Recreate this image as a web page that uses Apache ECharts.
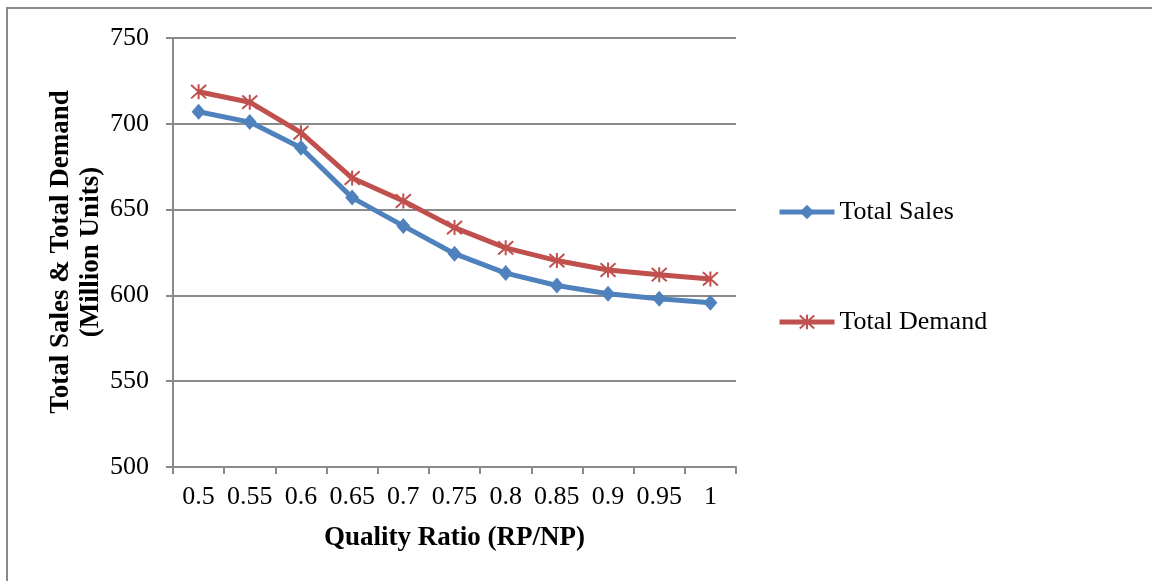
<!DOCTYPE html>
<html>
<head>
<meta charset="utf-8">
<script src="https://cdn.jsdelivr.net/npm/echarts@6/dist/echarts.min.js"></script>
<style>
  html, body { margin: 0; padding: 0; background: #fff; }
  #chart { width: 1152px; height: 581px; }
</style>
</head>
<body>
<div id="chart"></div>
<script>
// Quality ratio categories on the x axis
const qualityRatios = ['0.5', '0.55', '0.6', '0.65', '0.7', '0.75', '0.8', '0.85', '0.9', '0.95', '1'];
// Million units
const totalSales  = [707, 701, 686, 657, 640.5, 624.3, 613, 605.8, 601, 598, 595.7];
const totalDemand = [718.7, 712.6, 694.8, 668.4, 655, 639.5, 627.7, 620.3, 614.8, 612.1, 609.6];

const FONT = '"Liberation Serif", "Times New Roman", serif';
const GRAY = '#8a8a8a';
const BLUE = '#4F81BD';
const RED = '#C0504D';
// asterisk marker: X with a vertical stroke
const ASTERISK = 'path://M0,0L16,16M16,0L0,16M8,-1L8,17';

const chart = echarts.init(document.getElementById('chart'), null, { renderer: 'canvas' });
chart.setOption({
  backgroundColor: '#ffffff',
  animation: false,
  grid: { left: 173, right: 416, top: 38, bottom: 114 },
  xAxis: {
    type: 'category',
    data: qualityRatios,
    boundaryGap: true,
    axisLine: { lineStyle: { color: GRAY, width: 2 } },
    axisTick: { show: true, interval: 0, length: 7, lineStyle: { color: GRAY, width: 2 } },
    axisLabel: { interval: 0, margin: 17, color: '#000', fontFamily: FONT, fontSize: 26 },
    name: 'Quality Ratio (RP/NP)',
    nameLocation: 'middle',
    nameGap: 58,
    nameTextStyle: { color: '#000', fontFamily: FONT, fontSize: 27, fontWeight: 'bold' }
  },
  yAxis: {
    type: 'value',
    min: 500,
    max: 750,
    interval: 50,
    axisLine: { show: true, lineStyle: { color: GRAY, width: 2 } },
    axisTick: { show: true, length: 7, lineStyle: { color: GRAY, width: 2 } },
    axisLabel: { margin: 24, color: '#000', fontFamily: FONT, fontSize: 26 },
    splitLine: { show: true, lineStyle: { color: GRAY, width: 2 } }
  },
  legend: {
    orient: 'vertical',
    left: 777,
    top: 199,
    padding: 0,
    itemWidth: 55,
    itemHeight: 18,
    itemGap: 84,
    data: ['Total Sales', 'Total Demand'],
    lineStyle: { width: 5 },
    textStyle: { color: '#000', fontFamily: FONT, fontSize: 26 }
  },
  graphic: [
    {
      type: 'rect',
      silent: true,
      shape: { x: 7, y: 8, width: 1300, height: 700 },
      style: { fill: 'none', stroke: GRAY, lineWidth: 2 }
    },
    {
      type: 'text',
      silent: true,
      x: 76,
      y: 252,
      rotation: Math.PI / 2,
      style: {
        text: 'Total Sales & Total Demand\n(Million Units)',
        font: 'bold 27px ' + FONT,
        fill: '#000',
        align: 'center',
        verticalAlign: 'middle',
        lineHeight: 30
      }
    }
  ],
  series: [
    {
      name: 'Total Sales',
      type: 'line',
      data: totalSales,
      color: BLUE,
      symbol: 'diamond',
      symbolSize: [14, 16],
      lineStyle: { color: BLUE, width: 5 },
      itemStyle: { color: BLUE }
    },
    {
      name: 'Total Demand',
      type: 'line',
      data: totalDemand,
      color: RED,
      symbol: ASTERISK,
      symbolSize: 15,
      lineStyle: { color: RED, width: 5 },
      itemStyle: { color: RED, borderColor: RED, borderWidth: 2 }
    }
  ]
});
</script>
</body>
</html>
